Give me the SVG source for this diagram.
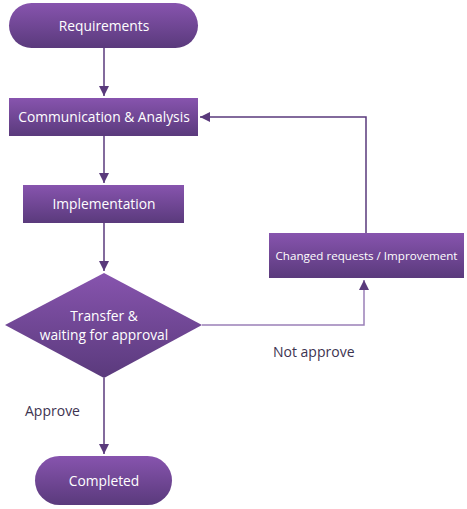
<svg xmlns="http://www.w3.org/2000/svg" width="467" height="509" viewBox="0 0 467 509">
<defs>
<linearGradient id="g" x1="0" y1="0" x2="0" y2="1">
<stop offset="0" stop-color="#8754ae"/>
<stop offset="1" stop-color="#5a3a7c"/>
</linearGradient>
<marker id="ah" viewBox="0 0 10 10" refX="10" refY="5" markerWidth="10" markerHeight="10" markerUnits="userSpaceOnUse" orient="auto">
<path d="M0,0 L10,5 L0,10 z" fill="#5a3a7c"/>
</marker>
</defs>
<style>
.n{fill:url(#g);stroke:none}
.t{font-family:"Open Sans","Noto Sans",sans-serif;font-size:13.8px;fill:#ffffff;text-anchor:middle}
.ts{font-family:"Open Sans","Noto Sans",sans-serif;font-size:11.6px;fill:#ffffff;text-anchor:middle}
.l{font-family:"Open Sans","Noto Sans",sans-serif;font-size:14px;fill:#3d3350}
.c{fill:none;stroke:#5a3a7c;stroke-width:1.5}
.c2{fill:none;stroke:#9a80b8;stroke-width:1.5}
</style>
<rect width="467" height="509" fill="#ffffff"/>
<g id="connectors">
<path class="c" d="M104,48 V96" marker-end="url(#ah)"/>
<path class="c" d="M104,136 V183" marker-end="url(#ah)"/>
<path class="c" d="M104,223 V271" marker-end="url(#ah)"/>
<path class="c" d="M104,378 V454" marker-end="url(#ah)"/>
<path class="c2" d="M202,325 H364 V280" marker-end="url(#ah)"/>
<path class="c" d="M366,233 V117 H200" marker-end="url(#ah)"/>
<text class="l" x="273" y="357">Not approve</text>
<text class="l" x="25" y="416">Approve</text>
</g>
<g id="requirements">
<rect class="n" x="9" y="3" width="189" height="45" rx="22.5"/>
<text class="t" x="104" y="30.5">Requirements</text>
</g>
<g id="communication">
<rect class="n" x="9" y="98" width="189" height="38"/>
<text class="t" x="104" y="122">Communication &amp; Analysis</text>
</g>
<g id="implementation">
<rect class="n" x="23" y="185" width="161" height="38"/>
<text class="t" x="104" y="209">Implementation</text>
</g>
<g id="decision">
<polygon class="n" points="104,273 202,325 104,378 5,325"/>
<text class="t" x="104" y="321">Transfer &amp;</text>
<text class="t" x="104" y="340">waiting for approval</text>
</g>
<g id="changed">
<rect class="n" x="269" y="233" width="195" height="45"/>
<text class="ts" x="366.5" y="260">Changed requests / Improvement</text>
</g>
<g id="completed">
<rect class="n" x="35" y="456" width="137" height="49" rx="24.5"/>
<text class="t" x="104" y="486">Completed</text>
</g>
</svg>
